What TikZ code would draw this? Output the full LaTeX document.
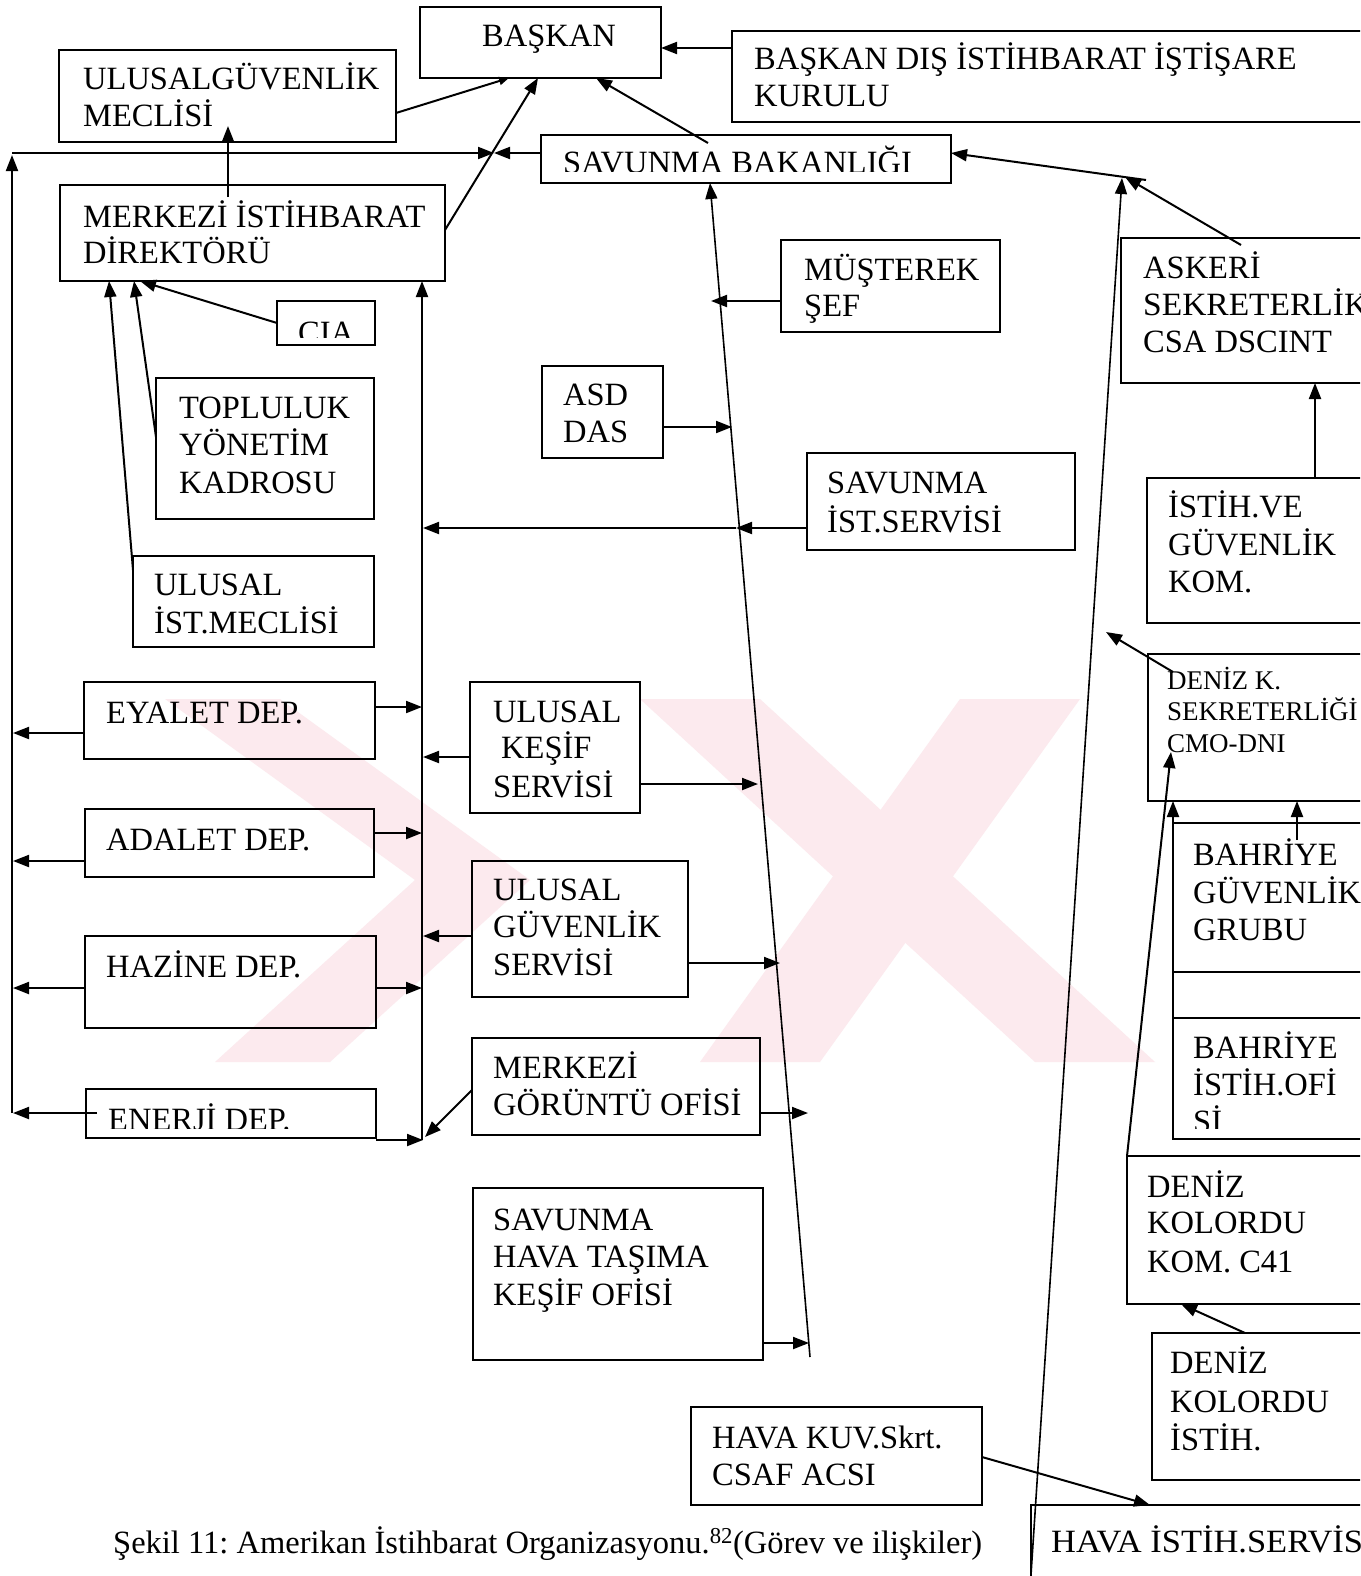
\documentclass[tikz,border=0pt]{standalone}
\usepackage{fontspec}
\setmainfont{Liberation Serif}
\usetikzlibrary{arrows.meta,calc}
\definecolor{wm}{RGB}{252,234,238}
\newcommand\fsz{\fontsize{32.5}{37}\selectfont\frenchspacing}
\newcommand\fss{\fontsize{27}{31}\selectfont}
\begin{document}
\begin{tikzpicture}[x=1pt,y=-1pt,
  box/.style={draw, line width=2.2pt, inner sep=0pt, outer sep=0pt, anchor=north west},
  arr/.style={line width=2pt, -{Triangle[length=16pt,width=12pt]}},
  sarr/.style={line width=2pt, -{Triangle[length=10pt,width=8pt]}},
  thin arr/.style={line width=1.6pt, -{Triangle[length=16pt,width=12pt]}},
  txt/.style={anchor=base west, inner sep=0pt, font=\fsz},
  txs/.style={anchor=base west, inner sep=0pt, font=\fss}]
\useasboundingbox (0,0) rectangle (1360,1576);
\clip (0,0) rectangle (1360,1576);
\fill[white] (0,0) rectangle (1360,1576);

% faint watermark
\begin{scope}
  \clip (160,699) rectangle (1155,1062);
  \fill[wm] (165,699) -- (280,699) -- (530,880) -- (330,1062) -- (215,1062) -- (415,880) -- cycle;
  \fill[wm] (640,699) -- (760,699) -- (1155,1062) -- (1035,1062) -- cycle;
  \fill[wm] (960,699) -- (1080,699) -- (820,1062) -- (700,1062) -- cycle;
\end{scope}

% ---------------- boxes ----------------
\node[box, minimum width=241pt, minimum height=71pt]  (baskan) at (420,7) {};
\node[box, minimum width=337pt, minimum height=92pt]  (ugm)    at (59,50) {};
\node[box, minimum width=648pt, minimum height=91pt]  (bdiik)  at (732,31) {};
\node[box, minimum width=410pt, minimum height=48pt]  (savb)   at (541,135) {};
\node[box, minimum width=385pt, minimum height=96pt]  (mid)    at (60,185) {};
\node[box, minimum width=98pt,  minimum height=44pt]  (cia)    at (277,301) {};
\node[box, minimum width=218pt, minimum height=141pt] (toplu)  at (156,378) {};
\node[box, minimum width=241pt, minimum height=91pt]  (uim)    at (133,556) {};
\node[box, minimum width=291pt, minimum height=77pt]  (eyalet) at (84,682) {};
\node[box, minimum width=289pt, minimum height=68pt]  (adalet) at (85,809) {};
\node[box, minimum width=291pt, minimum height=92pt]  (hazine) at (85,936) {};
\node[box, minimum width=290pt, minimum height=49pt]  (enerji) at (86,1089) {};
\node[box, minimum width=170pt, minimum height=131pt] (uks)    at (470,682) {};
\node[box, minimum width=216pt, minimum height=136pt] (ugs)    at (472,861) {};
\node[box, minimum width=288pt, minimum height=97pt]  (mgo)    at (472,1038) {};
\node[box, minimum width=290pt, minimum height=172pt] (shtko)  at (473,1188) {};
\node[box, minimum width=291pt, minimum height=98pt]  (hkuv)   at (691,1407) {};
\node[box, minimum width=349pt, minimum height=95pt]  (havais) at (1031,1505) {};
\node[box, minimum width=219pt, minimum height=92pt]  (must)   at (781,240) {};
\node[box, minimum width=121pt, minimum height=92pt]  (asd)    at (542,366) {};
\node[box, minimum width=268pt, minimum height=97pt]  (sis)    at (807,453) {};
\node[box, minimum width=259pt, minimum height=145pt] (askeri) at (1121,238) {};
\node[box, minimum width=233pt, minimum height=145pt] (igk)    at (1147,478) {};
\node[box, minimum width=232pt, minimum height=147pt] (denizk) at (1148,654) {};
\node[box, minimum width=207pt, minimum height=149pt] (bgg)    at (1173,823) {};
\node[box, minimum width=207pt, minimum height=121pt] (bio)    at (1173,1018) {};
\node[box, minimum width=253pt, minimum height=148pt] (dkk)    at (1127,1156) {};
\node[box, minimum width=228pt, minimum height=147pt] (dki)    at (1152,1333) {};

% ---------------- texts ----------------
\node[txt] (t1) at (482,47) {BAŞKAN};
\node[txt] (t2a) at (83,90) {ULUSALGÜVENLİK};
\node[txt] (t2b) at (83,127) {MECLİSİ};
\node[txt] (t3a) at (754,70) {BAŞKAN DIŞ İSTİHBARAT İŞTİŞARE};
\node[txt] (t3b) at (754,107) {KURULU};
\begin{scope}
  \clip (541,135) rectangle (951,171);
  \node[txt] (t4) at (563,173) {SAVUNMA BAKANLIĞI};
\end{scope}
\node[txt] (t5a) at (83,227) {MERKEZİ İSTİHBARAT};
\node[txt] (t5b) at (83,263) {DİREKTÖRÜ};
\begin{scope}
  \clip (277,301) rectangle (375,337);
  \node[txt] (t6) at (298,343) {CIA};
\end{scope}
\node[txt] (t7a) at (804,280) {MÜŞTEREK};
\node[txt] (t7b) at (804,316) {ŞEF};
\node[txt] (t8a) at (1143,278) {ASKERİ};
\node[txt] (t8b) at (1143,315) {\scalebox{1.03}[1]{SEKRETERLİK}};
\node[txt] (t8c) at (1143,352) {CSA DSCINT};
\node[txt] (t9a) at (179,418) {TOPLULUK};
\node[txt] (t9b) at (179,455) {YÖNETİM};
\node[txt] (t9c) at (179,493) {KADROSU};
\node[txt] (t10a) at (563,405) {ASD};
\node[txt] (t10b) at (563,442) {DAS};
\node[txt] (t11a) at (827,493) {SAVUNMA};
\node[txt] (t11b) at (827,532) {İST.SERVİSİ};
\node[txt] (t12a) at (1168,517) {İSTİH.VE};
\node[txt] (t12b) at (1168,555) {GÜVENLİK};
\node[txt] (t12c) at (1168,592) {KOM.};
\node[txt] (t13a) at (154,595) {ULUSAL};
\node[txt] (t13b) at (154,633) {İST.MECLİSİ};
\node[txs] (t14a) at (1167,689) {DENİZ K.};
\node[txs] (t14b) at (1167,720) {SEKRETERLİĞİ};
\node[txs] (t14c) at (1167,752) {CMO-DNI};
\node[txt] (t15) at (106,723) {EYALET DEP.};
\node[txt] (t16a) at (493,722) {ULUSAL};
\node[txt] (t16b) at (501,758) {KEŞİF};
\node[txt] (t16c) at (493,797) {SERVİSİ};
\node[txt] (t17) at (106,850) {ADALET DEP.};
\node[txt] (t18a) at (493,900) {ULUSAL};
\node[txt] (t18b) at (493,937) {GÜVENLİK};
\node[txt] (t18c) at (493,975) {SERVİSİ};
\node[txt] (t19) at (106,977) {HAZİNE DEP.};
\node[txt] (t20a) at (493,1078) {MERKEZİ};
\node[txt] (t20b) at (493,1115) {GÖRÜNTÜ OFİSİ};
\begin{scope}
  \clip (86,1089) rectangle (376,1128);
  \node[txt] (t21) at (108,1130) {ENERJİ DEP.};
\end{scope}
\node[txt] (t22a) at (1193,865) {BAHRİYE};
\node[txt] (t22b) at (1193,903) {GÜVENLİK};
\node[txt] (t22c) at (1193,940) {GRUBU};
\node[txt] (t23a) at (1193,1058) {BAHRİYE};
\node[txt] (t23b) at (1193,1095) {İSTİH.OFİ};
\begin{scope}
  \clip (1173,1100) rectangle (1380,1128);
  \node[txt] (t23c) at (1193,1132) {Sİ};
\end{scope}
\node[txt] (t24a) at (493,1230) {SAVUNMA};
\node[txt] (t24b) at (493,1267) {HAVA TAŞIMA};
\node[txt] (t24c) at (493,1305) {KEŞİF OFİSİ};
\node[txt] (t25a) at (1147,1197) {DENİZ};
\node[txt] (t25b) at (1147,1233) {KOLORDU};
\node[txt] (t25c) at (1147,1272) {KOM. C41};
\node[txt] (t26a) at (1170,1373) {DENİZ};
\node[txt] (t26b) at (1170,1412) {KOLORDU};
\node[txt] (t26c) at (1170,1450) {İSTİH.};
\node[txt] (t27a) at (712,1448) {HAVA KUV.Skrt.};
\node[txt] (t27b) at (712,1485) {CSAF ACSI};
\node[txt] (t28) at (1051,1552) {\scalebox{1.06}[1]{HAVA İSTİH.SERVİSİ}};
\node[txt] (cap) at (113,1553) {Şekil 11: Amerikan İstihbarat Organizasyonu.\textsuperscript{82}(Görev ve ilişkiler)};

% ---------------- named free ends ----------------
\coordinate (meet) at (494,153);
\coordinate (lt) at (12,153);
\coordinate (lb) at (12,1113);
\coordinate (ltip) at (12,155);
\coordinate (mbtop) at (422,0 |- mid.south);
\coordinate (mbbot) at (422,1140);
\coordinate (l1top) at (710,0 |- savb.south);
\coordinate (l1bot) at (810,1357);
\coordinate (l2top) at (1122,178);
\coordinate (l2bot) at (1030,1590);
\coordinate (savbin) at (708,143);
\coordinate (ugmin) at (228,126);
\coordinate (midin) at (228,197);
\coordinate (sism) at (736,528);
\coordinate (askin) at (1241,245);
\coordinate (savbr) at (1146,180);
\coordinate (dzkin) at (1173,672);
\coordinate (cmo) at (1171,752);
\coordinate (bggin) at (1297,840);
\coordinate (enin) at (97,1113);

% ---------------- connectors ----------------
\draw[arr] (bdiik.west |- 0,48) -- (baskan.east |- 0,48);
\draw[sarr] (ugm.east |- 0,113) -- (509,0 |- baskan.south);
\draw[arr] (mid.east |- 0,230) -- (538,0 |- baskan.south);
\draw[arr] (savbin) -- (596,0 |- baskan.south);
\draw[arr] (midin) -- (ugmin);

\draw[arr] (lb) -- (ltip);
\draw[arr] (lt) -- (meet);
\draw[arr] (savb.west |- meet) -- (meet);

\draw[arr] (cia.west |- 0,323) -- (140,0 |- mid.south);
\draw[arr] (toplu.west |- 0,437) -- (134,0 |- mid.south);
\draw[arr] (uim.west |- 0,570) -- (109,0 |- mid.south);
\draw[arr] (mbbot) -- (mbtop);

\draw[arr] (eyalet.east |- 0,707) -- (mbtop |- 0,707);
\draw[arr] (eyalet.west |- 0,733) -- (13,733);
\draw[arr] (adalet.east |- 0,833) -- (mbtop |- 0,833);
\draw[arr] (adalet.west |- 0,861) -- (13,861);
\draw[arr] (hazine.east |- 0,988) -- (mbtop |- 0,988);
\draw[arr] (hazine.west |- 0,988) -- (13,988);
\draw[arr] (enerji.east |- 0,1140) -- (423,1140);
\draw[arr] (enin) -- (13,1113);

\draw[arr] (uks.west |- 0,757) -- (423,757);
\draw[arr] (uks.east |- 0,784) -- (758,784);
\draw[arr] (ugs.west |- 0,936) -- (423,936);
\draw[arr] (ugs.east |- 0,963) -- (780,963);
\draw[arr] (mgo.west |- 0,1090) -- (425,1137);
\draw[arr] (mgo.east |- 0,1113) -- (808,1113);
\draw[arr] (shtko.east |- 0,1343) -- (809,1343);

\draw[thin arr] (l1bot) -- (l1top);
\draw[arr] (must.west |- 0,301) -- (711,301);
\draw[arr] (asd.east |- 0,427) -- (732,427);
\draw[arr] (sis.west |- 0,528) -- (sism);
\draw[arr] (sism) -- (423,528);

\draw[thin arr] (l2bot) -- (l2top);
\draw[arr] (askin) -- (1125,177);
\draw[arr] (savbr) -- (savb.east |- 0,153);
\draw[arr] (1315,0 |- igk.north) -- (1315,0 |- askeri.south);
\draw[arr] (dzkin) -- (1106,632);
\draw[arr] (dkk.north west) -- (cmo);
\draw[arr] (bio.south west) -- (1173,0 |- denizk.south);
\draw[arr] (bggin) -- (1297,0 |- denizk.south);
\draw[arr] (1245,0 |- dki.north) -- (1181,0 |- dkk.south);
\draw[arr] (hkuv.east |- 0,1457) -- (1150,0 |- havais.north);
\end{tikzpicture}
\end{document}
